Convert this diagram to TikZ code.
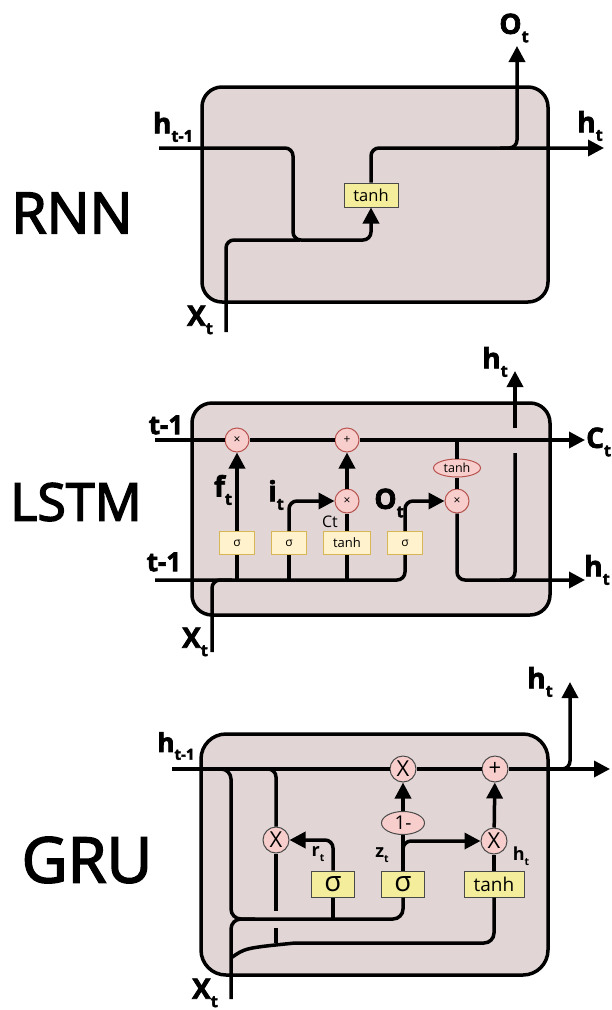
\documentclass[tikz,border=0pt]{standalone}
\usepackage{fontspec}
\setmainfont{Open Sans}
\usetikzlibrary{arrows.meta,shapes.geometric,calc}
\definecolor{cellfill}{HTML}{E1D5D5}
\definecolor{yelfill}{HTML}{FFF2CC}
\definecolor{yeldraw}{HTML}{D6B656}
\definecolor{pinkfill}{HTML}{F8CECC}
\definecolor{pinkdraw}{HTML}{B85450}
\definecolor{gyel}{HTML}{F4EE9C}
\definecolor{gline}{HTML}{4A4A4A}
\newcommand\lsub[1]{\raisebox{-0.3em}{\scalebox{0.58}{#1}}}
\newcommand\heavy[2]{\special{pdf:literal direct #1 w 2 Tr}#2\special{pdf:literal direct 0 Tr}}
\tikzset{
  cell/.style={draw=black, line width=3.5pt, fill=cellfill, rounded corners=20pt, inner sep=0},
  wire/.style={line width=3.5pt, rounded corners=8pt},
  arr/.style={wire, -{Triangle[length=16pt,width=16pt]}},
  title/.style={font=\fontsize{57}{57}\selectfont, inner sep=0},
  biglab/.style={font=\fontsize{28}{28}\selectfont\bfseries, inner sep=0},
  smlab/.style={font=\fontsize{18}{18}\selectfont\bfseries, inner sep=0},
  rtanh/.style={draw=gline, fill=gyel, line width=1pt, minimum width=54pt, minimum height=24pt, inner sep=0, font=\fontsize{16.5}{16.5}\selectfont},
  lgate/.style={draw=yeldraw, fill=yelfill, line width=1pt, minimum width=35pt, minimum height=23pt, inner sep=0, font=\fontsize{12}{12}\selectfont},
  lop/.style={circle, draw=pinkdraw, fill=pinkfill, line width=1pt, minimum size=24pt, inner sep=0, font=\fontsize{12}{12}\selectfont},
  gop/.style={circle, draw=gline, fill=pinkfill, line width=1pt, minimum size=26pt, inner sep=0, font=\fontsize{22}{22}\selectfont},
  ggate/.style={draw=gline, fill=gyel, line width=1pt, minimum width=43pt, minimum height=26pt, inner sep=0, font=\fontsize{28}{28}\selectfont},
}
\begin{document}
\begin{tikzpicture}[x=1pt,y=-1pt]
\useasboundingbox[fill=white] (0,0) rectangle (612,1010);

% ================= RNN =================
\node[title] (rnn-title) at (72,213) {\heavy{1.6}{RNN}};
\node[cell, minimum width=346pt, minimum height=215pt] (rnn-cell) at (375,194.5) {};
\node[rtanh] (rnn-tanh) at (371,195) {tanh};
\coordinate (rnn-hin) at (159,148);
\coordinate (rnn-hbend) at (293,240);
\coordinate (rnn-xin) at (226,332);
\coordinate (rnn-xjoin) at (300,240);
\coordinate (rnn-hout) at (604,148);
\coordinate (rnn-obr) at (500,148);
\coordinate (rnn-oout) at (517,46);
\draw[arr] (rnn-hin) -| (rnn-hbend) -| (rnn-tanh.south);
\draw[wire] (rnn-xin) |- (rnn-xjoin);
\draw[arr] (rnn-tanh.north) |- (rnn-hout);
\draw[arr] (rnn-obr) -| (rnn-oout);
\node[biglab] (rnn-lh) at (173,127) {\heavy{0.7}{h\lsub{t-1}}};
\node[biglab] (rnn-lht) at (590,126) {\heavy{0.7}{h\lsub{t}}};
\node[biglab] (rnn-lo) at (514,28) {\heavy{0.7}{O\lsub{t}}};
\node[biglab] (rnn-lx) at (200,320) {\heavy{0.7}{X\lsub{t}}};

% ================= LSTM =================
\node[title, font=\fontsize{52}{52}\selectfont] (lstm-title) at (76,502) {\heavy{1.5}{LSTM}};
\node[cell, minimum width=358pt, minimum height=212pt] (lstm-cell) at (371,509) {};
\node[lgate] (lstm-sf) at (237,543) {σ};
\node[lgate] (lstm-si) at (289,543) {σ};
\node[lgate, minimum width=47pt, font=\fontsize{13}{13}\selectfont] (lstm-tb) at (347,543) {tanh};
\node[lgate] (lstm-so) at (405,543) {σ};
\node[lop] (lstm-fx) at (237,440) {×};
\node[lop] (lstm-plus) at (347,440) {+};
\node[lop] (lstm-ix) at (347,501) {×};
\node[lop] (lstm-ox) at (457,501) {×};
\node[lop, ellipse, minimum width=47pt, minimum height=18pt, font=\fontsize{12.5}{12.5}\selectfont] (lstm-te) at (457,468) {tanh};
\coordinate (lstm-cin) at (155,440);
\coordinate (lstm-cout) at (585,440);
\coordinate (lstm-hin) at (155,580);
\coordinate (lstm-hout) at (585,580);
\coordinate (lstm-ctap) at (457,440);
\coordinate (lstm-xin) at (212,652);
\coordinate (lstm-xjoin) at (232,580);
\coordinate (lstm-hm) at (500,580);
\coordinate (lstm-hg1) at (515,453);
\coordinate (lstm-hg2) at (515,428);
\coordinate (lstm-hup) at (515,371);
\draw[wire] (lstm-cin) -- (lstm-fx);
\draw[wire] (lstm-fx) -- (lstm-plus);
\draw[arr] (lstm-plus) -- (lstm-cout);
\draw[wire] (lstm-hin) -| (lstm-so.south);
\draw[wire] (lstm-sf.south) -- (lstm-sf.south |- lstm-hin);
\draw[wire] (lstm-si.south) -- (lstm-si.south |- lstm-hin);
\draw[wire] (lstm-tb.south) -- (lstm-tb.south |- lstm-hin);
\draw[arr] (lstm-sf) -- (lstm-fx);
\draw[arr] (lstm-si.north) |- (lstm-ix.west);
\draw[wire] (lstm-tb) -- (lstm-ix);
\draw[arr] (lstm-ix) -- (lstm-plus);
\draw[arr] (lstm-so.north) |- (lstm-ox.west);
\draw[wire] (lstm-ctap) -- (lstm-te);
\draw[wire] (lstm-te) -- (lstm-ox);
\draw[arr] (lstm-ox.south) |- (lstm-hout);
\draw[wire] (lstm-hm) -| (lstm-hg1);
\draw[arr] (lstm-hg2) -- (lstm-hup);
\draw[wire] (lstm-xin) |- (lstm-xjoin);
\node[biglab, font=\fontsize{26}{26}\selectfont\bfseries] (lstm-lc1) at (166,425) {\heavy{0.7}{t-1}};
\node[biglab, font=\fontsize{26}{26}\selectfont\bfseries] (lstm-lh1) at (164,562) {\heavy{0.7}{t-1}};
\node[biglab] (lstm-lf) at (223,490) {\heavy{0.7}{f\lsub{t}}};
\node[biglab] (lstm-li) at (276,495) {\heavy{0.7}{i\lsub{t}}};
\node[biglab] (lstm-lo) at (389,503) {\heavy{0.7}{O\lsub{t}}};
\node[inner sep=0, font=\fontsize{16}{16}\selectfont] (lstm-lct) at (330,522) {Ct};
\node[biglab] (lstm-lht1) at (495,362) {\heavy{0.7}{h\lsub{t}}};
\node[biglab, anchor=west] (lstm-lc) at (586,442) {\heavy{0.7}{C\lsub{t}}};
\node[biglab] (lstm-lht2) at (597,570) {\heavy{0.7}{h\lsub{t}}};
\node[biglab] (lstm-lx) at (195,642) {\heavy{0.7}{X\lsub{t}}};

% ================= GRU =================
\node[title, font=\fontsize{63}{63}\selectfont] (gru-title) at (87,860) {\heavy{1.7}{GRU}};
\node[cell, minimum width=347pt, minimum height=241pt, rounded corners=25pt] (gru-cell) at (374.5,854.5) {};
\node[gop] (gru-zx) at (403,769) {X};
\node[gop] (gru-plus) at (495,769) {+};
\node[gop] (gru-hx) at (494,841) {X};
\node[gop] (gru-rx) at (276,840) {X};
\node[gop, ellipse, minimum width=43pt, minimum height=23pt, font=\fontsize{19}{19}\selectfont] (gru-om) at (403,823) {1-};
\node[ggate] (gru-sr) at (333,884) {σ};
\node[ggate] (gru-sz) at (403,884) {σ};
\node[ggate, minimum width=60pt, font=\fontsize{19}{19}\selectfont] (gru-tb) at (494,884) {tanh};
\coordinate (gru-hin) at (172,769);
\coordinate (gru-hout) at (610,769);
\coordinate (gru-b1) at (216,769);
\coordinate (gru-b1c) at (231,919);
\coordinate (gru-b2) at (262,769);
\coordinate (gru-rg1) at (276,911);
\coordinate (gru-rg2) at (276,928);
\coordinate (gru-rj) at (276,943);
\coordinate (gru-xin) at (231,999);
\coordinate (gru-xj) at (255,919);
\coordinate (gru-xl) at (231,958);
\coordinate (gru-xl2) at (295,943);
\coordinate (gru-htap) at (550,769);
\coordinate (gru-hup) at (570,682);
\coordinate (gru-zbr) at (403,858);
\draw[wire] (gru-hin) -- (gru-zx);
\draw[wire] (gru-zx) -- (gru-plus);
\draw[arr] (gru-plus) -- (gru-hout);
\draw[arr] (gru-htap) -| (gru-hup);
\draw[wire, rounded corners=10pt] (gru-b1) -| (gru-b1c) -| (gru-sz.south);
\draw[wire] (gru-sr.south) -- (gru-sr.south |- gru-b1c);
\draw[arr] (gru-sr.north) |- (gru-rx.east);
\draw[wire] (gru-b2) -| (gru-rx.north);
\draw[wire] (gru-rx.south) -- (gru-rg1);
\draw[wire] (gru-rg2) -- (gru-rj);
\draw[wire, rounded corners=10pt] (gru-xin) |- (gru-xj);
\draw[wire] (gru-xl) .. controls (245,948) .. (gru-xl2);
\draw[wire, rounded corners=10pt] (gru-xl2) -| (gru-tb.south);
\draw[wire] (gru-sz) -- (gru-om);
\draw[arr] (gru-om) -- (gru-zx);
\draw[arr] (gru-zbr) |- (gru-hx.west);
\draw[wire] (gru-tb) -- (gru-hx);
\draw[arr] (gru-hx) -- (gru-plus);
\node[biglab, font=\fontsize{26}{26}\selectfont\bfseries] (gru-lh) at (176,746) {\heavy{0.7}{h\lsub{t-1}}};
\node[biglab] (gru-lht) at (540,682) {\heavy{0.7}{h\lsub{t}}};
\node[biglab] (gru-lx) at (205,993) {\heavy{0.7}{X\lsub{t}}};
\node[smlab] (gru-lr) at (318,854) {r\lsub{t}};
\node[smlab] (gru-lz) at (382,855) {z\lsub{t}};
\node[smlab] (gru-lhs) at (521,856) {h\lsub{t}};
\end{tikzpicture}
\end{document}
